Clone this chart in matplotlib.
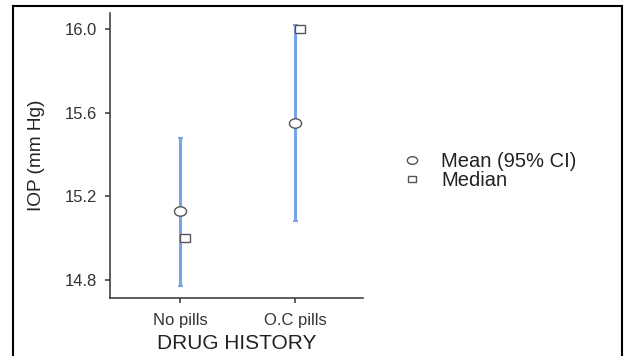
import matplotlib
matplotlib.use("Agg")
import matplotlib.pyplot as plt
from matplotlib.lines import Line2D
from matplotlib.markers import MarkerStyle
from matplotlib.transforms import Affine2D

plt.rcParams['font.family'] = ['Liberation Sans', 'DejaVu Sans']

categories = ["No pills", "O.C pills"]
means = [15.13, 15.55]
ci_low = [14.77, 15.08]
ci_high = [15.48, 16.02]
medians = [15.0, 16.0]
yticks = [14.8, 15.2, 15.6, 16.0]

fig = plt.figure(figsize=(6.24, 3.56), dpi=100)
ax = fig.add_axes([110/624, 1-298/356, (363-110)/624, (298-13)/356])

# the reference is slightly stretched horizontally
circ = MarkerStyle('o', transform=Affine2D().scale(1.28, 1.0))
sq = MarkerStyle('s', transform=Affine2D().scale(1.3, 1.0))

x = list(range(1, len(categories)+1))
blue = "#78a3ea"
edge = "#555555"
for xi, m, lo, hi in zip(x, means, ci_low, ci_high):
    ax.errorbar([xi], [m], yerr=[[m-lo], [hi-m]], fmt='none', ecolor=blue,
                elinewidth=2.2, capsize=1.8, capthick=1.5, zorder=2)
ax.plot(x, means, linestyle='none', marker=circ, markersize=6.8,
        markerfacecolor='white', markeredgecolor=edge, markeredgewidth=1.0, zorder=3)
ax.plot([xi + 0.045 for xi in x], medians, linestyle='none', marker=sq, markersize=6,
        markerfacecolor='white', markeredgecolor=edge, markeredgewidth=1.0, zorder=3)

ax.set_xlim(0.39, 2.59)
ax.set_ylim(14.714, 16.076)
ax.set_xticks(x)
ax.set_xticklabels(categories)
ax.set_yticks(yticks)
ax.set_yticklabels([f"{v:.1f}" for v in yticks])
for s in ['top', 'right']:
    ax.spines[s].set_visible(False)
for s in ['left', 'bottom']:
    ax.spines[s].set_color('#333333')
    ax.spines[s].set_linewidth(1.1)
ax.tick_params(axis='both', colors='#333333', labelcolor='#333333', labelsize=12,
               length=3.5, width=1.1, direction='out')
ax.tick_params(axis='x', pad=7)
ax.tick_params(axis='y', pad=6)
ax.set_xlabel("DRUG HISTORY", fontsize=15, color='#222222', va='center')
ax.xaxis.set_label_coords(0.5, -0.158)
ax.set_ylabel("IOP (mm Hg)", fontsize=13.7, color='#222222', va='center')
ax.yaxis.set_label_coords(-0.29, 0.5)

lc = MarkerStyle('o', transform=Affine2D().scale(1.35, 1.0))
ls = MarkerStyle('s', transform=Affine2D().scale(1.2, 1.0))
handles = [
    Line2D([], [], linestyle='none', marker=lc, markersize=5.5, markerfacecolor='white',
           markeredgecolor=edge, markeredgewidth=1.0, label='Mean (95% CI)'),
    Line2D([], [], linestyle='none', marker=ls, markersize=5, markerfacecolor='white',
           markeredgecolor=edge, markeredgewidth=1.0, label='Median'),
]
fig.legend(handles=handles, loc='center left', bbox_to_anchor=(402/624, 1-171/356),
           frameon=False, fontsize=14.5, handlelength=1.0, handletextpad=0.95,
           labelspacing=0.0, labelcolor='#222222', borderpad=0, borderaxespad=0)

# outer border lines
kw = dict(color='black', linewidth=1.5, transform=fig.transFigure, clip_on=False)
fig.add_artist(Line2D([13/624, 13/624], [0, 1-6/356], **kw))
fig.add_artist(Line2D([13/624, 622/624], [1-6/356, 1-6/356], **kw))
fig.add_artist(Line2D([622/624, 622/624], [0, 1-6/356], **kw))

fig.savefig("out.png", dpi=100)
